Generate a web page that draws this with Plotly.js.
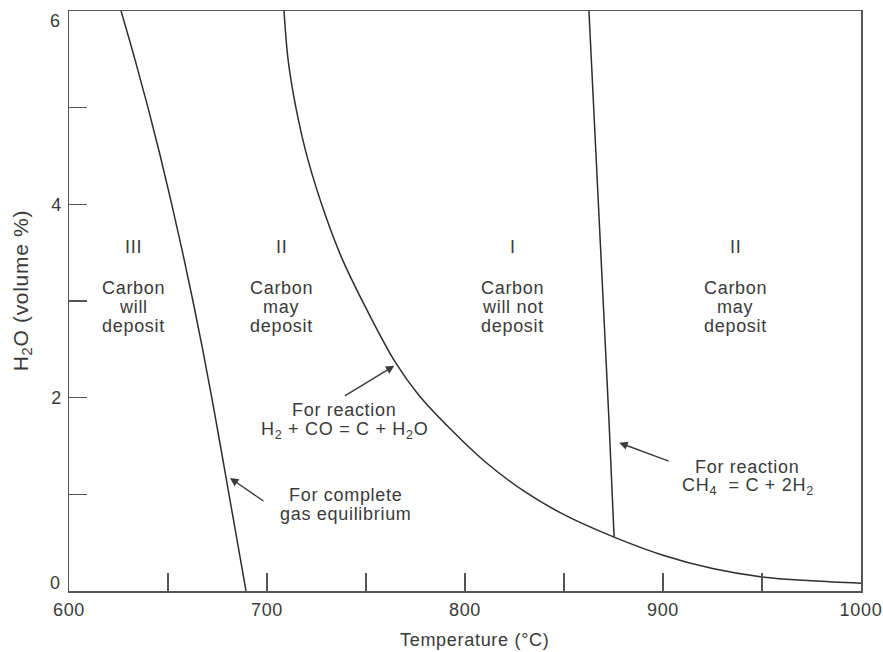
<!DOCTYPE html>
<html>
<head>
<meta charset="utf-8">
<script src="https://cdn.plot.ly/plotly-3.0.1.min.js"></script>
<style>
  html, body { margin: 0; padding: 0; background: #ffffff; }
  #chart { width: 883px; height: 652px; }
  /* slightly open letter spacing for all chart text */
  svg text { letter-spacing: 0.7px; }
</style>
</head>
<body>
<div id="chart"></div>
<script>
// Boundary for complete gas equilibrium (temperature in °C, H2O in volume %)
const equilibriumTemp = [626.3, 633.3, 639.9, 646.1, 651.9, 657.4, 662.6, 667.5, 672.1, 676.5, 680.8, 685.1, 689.4];
const equilibriumH2O  = [6.0, 5.5, 5.0, 4.5, 4.0, 3.5, 3.0, 2.5, 2.0, 1.5, 1.0, 0.5, 0.0];

// Boundary for the reaction H2 + CO = C + H2O
const coReactionTemp = [708.6, 710.7, 714.8, 720.7, 730.3, 738.3, 750.4, 764.7, 776.5, 792.9, 810, 830, 850, 875, 900, 925, 950, 975, 1000];
const coReactionH2O  = [6.0, 5.49, 4.98, 4.46, 3.84, 3.42, 2.91, 2.37, 2.03, 1.67, 1.34, 1.03, 0.79, 0.56, 0.37, 0.232, 0.145, 0.105, 0.08];

// Boundary for the reaction CH4 = C + 2H2
const methaneTemp = [862.6, 868.1, 872.7, 875.3];
const methaneH2O  = [6.0, 3.7, 1.77, 0.56];

// Axis ticks and titles
const xTickVals = [600, 700, 800, 900, 1000];
const xTickText = ['600', '700', '800', '900', '1000'];
const xMinorStep = 50;
const yTickVals = [2, 4];
const yTickText = ['2', '4'];
const yMinorStep = 1;
const yEndLabels = [0, 6];
const xTitle = 'Temperature (°C)';
const yTitle = 'H<sub>2</sub>O (volume %)';

// Region labels
const regionNumerals = ['III', 'II', 'I', 'II'];
const regionLines = [
  ['Carbon', 'will', 'deposit'],
  ['Carbon', 'may', 'deposit'],
  ['Carbon', 'will not', 'deposit'],
  ['Carbon', 'may', 'deposit']
];

const ink = '#3a3a3a';
const frame = '#555555';
const FONT = 'Liberation Sans, Arial, Helvetica, sans-serif';
const txt = { family: FONT, size: 18, color: ink };
const tickTxt = { family: FONT, size: 18, color: ink };

const lineStyle = { color: '#2e2e2e', width: 1.5 };
const traces = [
  { x: equilibriumTemp, y: equilibriumH2O, mode: 'lines', line: Object.assign({ shape: 'spline', smoothing: 1 }, lineStyle), hoverinfo: 'skip' },
  { x: coReactionTemp, y: coReactionH2O, mode: 'lines', line: Object.assign({ shape: 'spline', smoothing: 1 }, lineStyle), hoverinfo: 'skip' },
  { x: methaneTemp, y: methaneH2O, mode: 'lines', line: Object.assign({ shape: 'spline', smoothing: 0.5 }, lineStyle), hoverinfo: 'skip' }
];

const annotations = [];

// Region numerals and descriptions, one annotation per text row
const regionCentres = [632.8, 707.1, 824.2, 936.4];
const numeralY = 3.558;
const rowY = [3.134, 2.938, 2.741];
regionCentres.forEach((cx, i) => {
  annotations.push({ x: cx, y: numeralY, xref: 'x', yref: 'y', text: regionNumerals[i], showarrow: false, font: txt, xanchor: 'center', yanchor: 'middle' });
  regionLines[i].forEach((t, j) => {
    annotations.push({ x: cx, y: rowY[j], xref: 'x', yref: 'y', text: t, showarrow: false, font: txt, xanchor: 'center', yanchor: 'middle' });
  });
});

// Reaction captions
function caption(x, y, text) {
  annotations.push({ x: x, y: y, xref: 'x', yref: 'y', text: text, showarrow: false, font: txt, xanchor: 'center', yanchor: 'middle' });
}
caption(738.9, 1.872, 'For reaction');
caption(738.9, 1.665, 'H<sub>2</sub> + CO = C + H<sub>2</sub>O');
caption(739.4, 0.993, 'For complete');
caption(739.9, 0.800, 'gas equilibrium');
caption(942.4, 1.283, 'For reaction');
caption(942.9, 1.076, 'CH<sub>4</sub>  = C + 2H<sub>2</sub>');

// Pointer arrows (tip on the curve, tail offset in pixels)
function arrow(x, y, ax, ay) {
  annotations.push({ x: x, y: y, xref: 'x', yref: 'y', ax: ax, ay: ay, text: '', showarrow: true,
    arrowhead: 2, arrowsize: 1.2, arrowwidth: 1.4, arrowcolor: ink, standoff: 0 });
}
arrow(764.3, 2.33, -51, 31);
arrow(681.3, 1.169, 35, 24);
arrow(877.9, 1.534, 51, 19);

// End labels of the vertical axis, set slightly inside the frame corners
yEndLabels.forEach(v => {
  annotations.push({ x: 0, xref: 'paper', y: v, yref: 'y', text: String(v), showarrow: false, font: tickTxt,
    xanchor: 'right', yanchor: 'middle', xshift: -6, yshift: v === 0 ? 8 : -10 });
});

// Axis titles
annotations.push({ x: 805, xref: 'x', y: 0, yref: 'paper', text: xTitle, showarrow: false, font: txt,
  xanchor: 'center', yanchor: 'middle', yshift: -49 });
annotations.push({ x: 0, xref: 'paper', y: 3.11, yref: 'y', text: yTitle, showarrow: false, textangle: -90,
  font: { family: FONT, size: 21, color: ink }, xanchor: 'center', yanchor: 'middle', xshift: -47 });

const tickStyle = { ticks: 'inside', ticklen: 18, tickwidth: 1.5, tickcolor: frame };

const layout = {
  width: 883,
  height: 652,
  margin: { l: 69, r: 22, t: 11, b: 61 },
  paper_bgcolor: '#ffffff',
  plot_bgcolor: '#ffffff',
  showlegend: false,
  font: txt,
  xaxis: Object.assign({
    range: [600, 1000],
    tickmode: 'array',
    tickvals: xTickVals,
    ticktext: xTickText,
    minor: Object.assign({ tick0: 600, dtick: xMinorStep, showgrid: false }, tickStyle),
    showline: true,
    linecolor: frame,
    linewidth: 1.5,
    mirror: true,
    showgrid: false,
    zeroline: false,
    tickfont: tickTxt,
    ticklabelstandoff: 2
  }, tickStyle),
  yaxis: Object.assign({
    range: [0, 6],
    tickmode: 'array',
    tickvals: yTickVals,
    ticktext: yTickText,
    minor: Object.assign({ tick0: 0, dtick: yMinorStep, showgrid: false }, tickStyle),
    showline: true,
    linecolor: frame,
    linewidth: 1.5,
    mirror: true,
    showgrid: false,
    zeroline: false,
    tickfont: tickTxt,
    ticklabelstandoff: 2
  }, tickStyle),
  annotations: annotations
};

Plotly.newPlot('chart', traces, layout, { displayModeBar: false, staticPlot: true });
</script>
</body>
</html>
